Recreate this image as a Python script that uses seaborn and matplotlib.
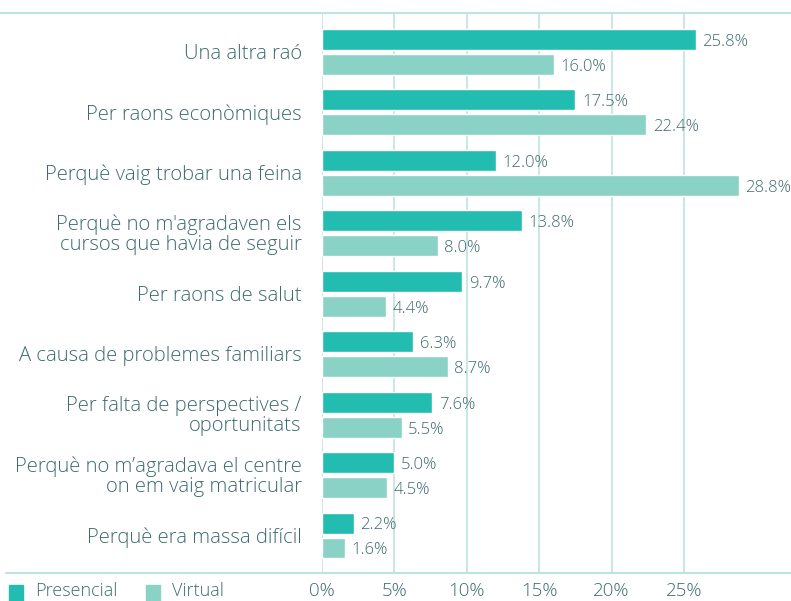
import matplotlib
matplotlib.use("Agg")
import matplotlib.pyplot as plt
import seaborn as sns
import pandas as pd
from matplotlib.lines import Line2D
from matplotlib.patches import Rectangle

categories = [
    "Una altra raó",
    "Per raons econòmiques",
    "Perquè vaig trobar una feina",
    "Perquè no m'agradaven els\ncursos que havia de seguir",
    "Per raons de salut",
    "A causa de problemes familiars",
    "Per falta de perspectives /\noportunitats",
    "Perquè no m’agradava el centre\non em vaig matricular",
    "Perquè era massa difícil",
]
presencial = [25.8, 17.5, 12.0, 13.8, 9.7, 6.3, 7.6, 5.0, 2.2]
virtual = [16.0, 22.4, 28.8, 8.0, 4.4, 8.7, 5.5, 4.5, 1.6]
series = ["Presencial", "Virtual"]
ticks = [0, 5, 10, 15, 20, 25]
tick_labels = ["0%", "5%", "10%", "15%", "20%", "25%"]

c_pres = "#22BDB0"
c_virt = "#8AD1C6"
c_text = "#3E6B70"
c_grid = "#BFE3DF"

df = pd.DataFrame({
    "cat": categories * 2,
    "val": presencial + virtual,
    "serie": [series[0]] * len(categories) + [series[1]] * len(categories),
})

sns.set_theme(style="white")
plt.rcParams["font.family"] = ["Open Sans", "DejaVu Sans"]

W, H = 791, 601
fig = plt.figure(figsize=(W / 100, H / 100), dpi=100)
ax = fig.add_axes([322 / W, 1 - 573 / H, (W - 322) / W, (573 - 13) / H])

sns.barplot(data=df, y="cat", x="val", hue="serie", orient="h",
            palette=[c_pres, c_virt], width=0.826, gap=0.16,
            ax=ax, legend=False, saturation=1)

ax.set_xlim(0, (W - 322) / 72.4 * 5)
ax.set_ylim(8.62, -0.645)
for t in ticks:
    ax.axvline(t, color=c_grid, lw=1.2, zorder=0)
ax.set_xticks([])
ax.set_yticks([])
ax.set_xlabel("")
ax.set_ylabel("")
for s in ax.spines.values():
    s.set_visible(False)

# value labels
for cont in ax.containers:
    for rect in cont:
        v = rect.get_width()
        ax.text(v + 0.45, rect.get_y() + rect.get_height() / 2 + 0.04, f"{v:.1f}%",
                va="center", ha="left", fontsize=12, color=c_text, fontweight="light")

# category labels
for i, c in enumerate(categories):
    ax.text(-1.4, i + 0.03, c, ha="right", va="center", fontsize=14.6, color=c_text,
            linespacing=1.0, fontweight="light")

# tick labels below
for t, lab in zip(ticks, tick_labels):
    ax.text(t, 8.62 + 0.3, lab, ha="center", va="center", fontsize=13.5,
            color=c_text, fontweight="light", clip_on=False)

# frame lines
fig.add_artist(Line2D([0, 1], [1 - 13 / H, 1 - 13 / H], color=c_grid, lw=1.5))
fig.add_artist(Line2D([6 / W, 1], [1 - 573 / H, 1 - 573 / H], color=c_grid, lw=1.5))

# legend
ly = 1 - 591 / H
fig.add_artist(Rectangle((9 / W, 1 - 601 / H), 14 / W, 16 / H, color=c_pres,
                         transform=fig.transFigure))
fig.text(35 / W, ly, "Presencial", ha="left", va="center", fontsize=13,
         color=c_text, fontweight="light")
fig.add_artist(Rectangle((146 / W, 1 - 601 / H), 14 / W, 16 / H, color=c_virt,
                         transform=fig.transFigure))
fig.text(172 / W, ly, "Virtual", ha="left", va="center", fontsize=13,
         color=c_text, fontweight="light")

fig.savefig("out.png", dpi=100)
